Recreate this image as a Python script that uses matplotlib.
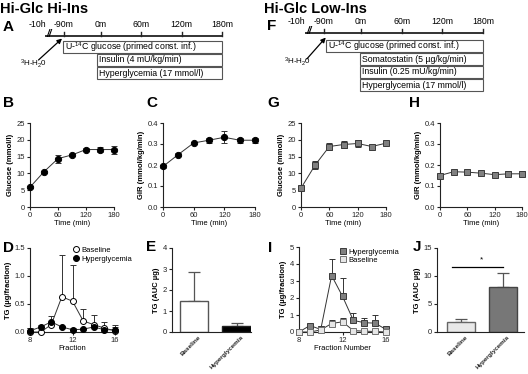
import matplotlib
matplotlib.use("Agg")
import matplotlib.pyplot as plt
import matplotlib.transforms as mtransforms
from matplotlib.lines import Line2D
from matplotlib.patches import Rectangle
import numpy as np

plt.rcParams['font.family'] = ['Liberation Sans', 'DejaVu Sans']
plt.rcParams['mathtext.fontset'] = 'custom'
plt.rcParams['mathtext.rm'] = 'Liberation Sans'
plt.rcParams['mathtext.it'] = 'Liberation Sans:italic'
plt.rcParams['mathtext.bf'] = 'Liberation Sans:bold'

# ---- data ----
time = [0, 30, 60, 90, 120, 150, 180]
b_glc = [5.9, 10.5, 14.4, 15.5, 17.1, 17.1, 17.1]
b_glc_err = [0.3, 0.3, 1.2, 0.4, 0.4, 0.8, 1.2]
c_gir = [0.193, 0.250, 0.305, 0.318, 0.332, 0.318, 0.318]
c_gir_err = [0.006, 0.005, 0.005, 0.012, 0.028, 0.012, 0.012]
g_glc = [5.6, 12.5, 18.0, 18.6, 18.9, 18.0, 19.0]
g_glc_err = [0.3, 1.2, 1.0, 0.9, 0.9, 0.3, 0.3]
h_gir = [0.150, 0.168, 0.166, 0.161, 0.154, 0.158, 0.158]
h_gir_err = [0.008, 0.010, 0.005, 0.005, 0.006, 0.012, 0.012]

fractions = [8, 9, 10, 11, 12, 13, 14, 15, 16]
d_base = [0.0, 0.0, 0.13, 0.63, 0.55, 0.20, 0.13, 0.07, 0.02]
d_base_err = [0.07, 0.0, 0.05, 0.75, 0.65, 0.21, 0.17, 0.10, 0.11]
d_hyper = [0.02, 0.09, 0.18, 0.09, 0.04, 0.05, 0.09, 0.04, 0.04]
d_hyper_err = [0.05, 0.03, 0.10, 0.02, 0.03, 0.03, 0.04, 0.04, 0.05]
i_hyper = [0.0, 0.38, 0.15, 3.32, 2.1, 0.68, 0.55, 0.52, 0.15]
i_hyper_err = [0.05, 0.12, 0.10, 0.96, 1.05, 0.46, 0.27, 0.50, 0.10]
i_base = [0.0, 0.0, 0.12, 0.50, 0.60, 0.08, 0.05, 0.03, 0.0]
i_base_err = [0.0, 0.0, 0.05, 0.20, 0.25, 0.05, 0.05, 0.03, 0.10]

groups = ['Baseline', 'Hyperglycemia']
e_vals = [1.5, 0.28]
e_err = [1.38, 0.14]
j_vals = [1.7, 8.0]
j_err = [0.6, 2.5]

tl_labels = ['-10h', '-90m', '0m', '60m', '120m', '180m']
tl_pos = [-95, -55, 0, 60, 120, 180]   # schematic minutes (-90m compressed)
a_boxes = ['U-$^{14}$C glucose (primed const. inf.)', 'Insulin (4 mU/kg/min)',
           'Hyperglycemia (17 mmol/l)']
a_box_start = [-56, -6, -6]
f_boxes = ['U-$^{14}$C glucose (primed const. inf.)', 'Somatostatin (5 \u00b5g/kg/min)',
           'Insulin (0.25 mU/kg/min)', 'Hyperglycemia (17 mmol/l)']
f_box_start = [-51, -2, -2, -2]

W, H = 528, 374
fig = plt.figure(figsize=(W / 100, H / 100), dpi=100)

FS = 5.5
DARK = '#333333'


def px_axes(x0, y0, x1, y1):
    return fig.add_axes([x0 / W, 1 - y1 / H, (x1 - x0) / W, (y1 - y0) / H])


def prism(ax):
    for s in ['top', 'right']:
        ax.spines[s].set_visible(False)
    for s in ['left', 'bottom']:
        ax.spines[s].set_linewidth(0.8)
        ax.spines[s].set_color('#222222')
    ax.tick_params(direction='out', length=2.5, width=0.8, labelsize=FS, pad=1,
                   colors='#222222')


def letter(x, y, s):
    fig.text(x / W, 1 - y / H, s, fontsize=11, fontweight='bold', va='center', ha='left')


def timeline(rect, boxes, starts, line_row, lab_row, arrow, h2o):
    ax = px_axes(*rect[:4])
    ax.set_xlim(rect[4], rect[5])
    ax.set_ylim(rect[6], rect[7])
    ax.axis('off')
    ax.plot([-83, 180], [line_row, line_row], color='#222222', lw=1.3, solid_capstyle='butt')
    for lab, p in zip(tl_labels, tl_pos):
        if p > -90:
            ax.plot([p, p], [line_row, line_row - 0.32], color='#222222', lw=1.0)
        ax.text(p, lab_row, lab, fontsize=6.3, ha='center', va='center')
    ax.text(-77, line_row - 0.12, '//', fontsize=7, fontweight='bold', ha='center',
            va='center', style='italic')
    for k, (txt, st) in enumerate(zip(boxes, starts)):
        r = k + 1
        ax.add_patch(Rectangle((st, r - 0.45), 180 - st, 0.9, facecolor='white',
                               edgecolor='#555555', lw=0.8))
        ax.text(st + 3, r, txt, fontsize=6.3, ha='left', va='center')
    ax.annotate('', xy=arrow[2:], xytext=arrow[:2],
                arrowprops=dict(arrowstyle='-|>', color='black', lw=0.9,
                                mutation_scale=7, shrinkA=0, shrinkB=0))
    ax.text(h2o[0], h2o[1], '$^{3}$H-H$_{2}$0', fontsize=5.8, ha='center', va='center')


# ---- titles & letters ----
fig.text(0 / W, 1 - 9 / H, 'Hi-Glc Hi-Ins', fontsize=10.5, fontweight='bold', va='center')
fig.text(264 / W, 1 - 9 / H, 'Hi-Glc Low-Ins', fontsize=10.5, fontweight='bold', va='center')
for (x, y, s) in [(3, 27, 'A'), (3, 103, 'B'), (146, 103, 'C'), (3, 248, 'D'),
                  (146, 247, 'E'), (267, 26, 'F'), (267, 103, 'G'), (409, 103, 'H'),
                  (268, 248, 'I'), (413, 247, 'J')]:
    letter(x, y, s)

# ---- timelines A and F (y rows: 13 px each) ----
timeline((0, 20, 264, 96, -150.3, 242.6, (96 - 34) / 13, (20 - 34) / 13), a_boxes,
         a_box_start, 0.15, -0.7, (-93, 2.0, -58, 0.35), (-101, 2.25))
timeline((264, 18, 528, 96, -143.1, 246.3, (96 - 33) / 13, (18 - 33) / 13), f_boxes,
         f_box_start, 0.0, -0.85, (-80, 2.0, -52, 0.35), (-93, 2.2))


def time_panel(rect, y, yerr, ylim, yticks, ylabel, marker, fc, ec, fmt):
    ax = px_axes(*rect)
    prism(ax)
    ax.errorbar(time, y, yerr=yerr, color=DARK, lw=0.7, elinewidth=0.7, capsize=2,
                capthick=0.7, marker=marker, ms=4.5, mfc=fc, mec=ec, mew=0.7,
                clip_on=False, zorder=3)
    ax.set_xlim(0, 180)
    ax.set_ylim(*ylim)
    ax.set_xticks([0, 60, 120, 180])
    ax.set_yticks(yticks)
    ax.set_yticklabels([fmt % v for v in yticks])
    ax.set_xlabel('Time (min)', fontsize=FS, labelpad=1)
    ax.set_ylabel(ylabel, fontsize=FS, fontweight='bold', labelpad=2)
    return ax


time_panel((30, 123, 114, 207), b_glc, b_glc_err, (0, 25), [0, 5, 10, 15, 20, 25],
           'Glucose (mmol/l)', 'o', 'black', 'black', '%d')
time_panel((163, 123, 255, 207), c_gir, c_gir_err, (0, 0.4), [0, 0.1, 0.2, 0.3, 0.4],
           'GIR (mmol/kg/min)', 'o', 'black', 'black', '%.1f')
time_panel((301, 123, 386, 207), g_glc, g_glc_err, (0, 25), [0, 5, 10, 15, 20, 25],
           'Glucose (mmol/l)', 's', '#808080', '#3a3a3a', '%d')
time_panel((440, 123, 522, 207), h_gir, h_gir_err, (0, 0.4), [0, 0.1, 0.2, 0.3, 0.4],
           'GIR (mmol/kg/min)', 's', '#808080', '#3a3a3a', '%.1f')


def frac_panel(rect, series, ylim, yticks, fmt, xlabel, legend_at):
    ax = px_axes(*rect)
    prism(ax)
    handles = []
    for (y, err, marker, fc, ec, lab) in series:
        ax.errorbar(fractions, y, yerr=[np.zeros(len(err)), err], color=DARK, lw=0.7,
                    elinewidth=0.7, capsize=2, capthick=0.7, marker=marker, ms=4.3,
                    mfc=fc, mec=ec, mew=0.7, clip_on=False, zorder=3)
        handles.append(Line2D([], [], ls='none', marker=marker, ms=4.3, mfc=fc, mec=ec,
                              mew=0.7, label=lab))
    ax.set_xlim(8, 16)
    ax.set_ylim(*ylim)
    ax.set_xticks([8, 12, 16])
    ax.set_yticks(yticks)
    ax.set_yticklabels([fmt % v for v in yticks])
    ax.set_xlabel(xlabel, fontsize=FS, labelpad=1)
    ax.set_ylabel('TG (\u00b5g/fraction)', fontsize=FS, fontweight='bold', labelpad=2)
    ax.legend(handles=handles, loc='upper left', bbox_to_anchor=legend_at, frameon=False,
              fontsize=FS, handlelength=0.8, handletextpad=0.3, labelspacing=0.15,
              borderpad=0, borderaxespad=0)


frac_panel((30, 248, 115, 332),
           [(d_base, d_base_err, 'o', 'white', 'black', 'Baseline'),
            (d_hyper, d_hyper_err, 'o', 'black', 'black', 'Hyperglycemia')],
           (0, 1.5), [0, 0.5, 1.0, 1.5], '%.1f', 'Fraction', (0.5, 1.015))
frac_panel((299, 247, 386, 332),
           [(i_hyper, i_hyper_err, 's', '#808080', '#3a3a3a', 'Hyperglycemia'),
            (i_base, i_base_err, 's', '#e6e6e6', '#707070', 'Baseline')],
           (0, 5), [0, 1, 2, 3, 4, 5], '%d', 'Fraction Number', (0.47, 0.985))


def bar_panel(rect, vals, err, ylim, yticks, xlim, fcs, ecs):
    ax = px_axes(*rect)
    prism(ax)
    x = np.arange(len(vals))
    ax.bar(x, vals, width=0.67, color=fcs, edgecolor=ecs, lw=1.0, zorder=2)
    ax.errorbar(x, vals, yerr=[np.zeros(len(err)), err], fmt='none', ecolor='#555555',
                elinewidth=0.9, capsize=4, capthick=0.9, zorder=1)
    ax.set_xlim(*xlim)
    ax.set_ylim(*ylim)
    ax.set_yticks(yticks)
    ax.set_xticks(x)
    ax.set_xticklabels(groups, rotation=45, ha='right', rotation_mode='anchor',
                       fontsize=4.6, fontweight='bold')
    ax.tick_params(axis='x', length=0, pad=2)
    shift = mtransforms.ScaledTranslation(4 / 100, 0, fig.dpi_scale_trans)
    for t in ax.get_xticklabels():
        t.set_transform(t.get_transform() + shift)
    ax.set_ylabel('TG (AUC \u00b5g)', fontsize=FS, fontweight='bold', labelpad=2)
    return ax


bar_panel((172, 248, 251, 332), e_vals, e_err, (0, 4), [0, 1, 2, 3, 4], (-0.52, 1.34),
          ['white', 'black'], ['#555555', '#222222'])
axj = bar_panel((437, 248, 524, 332), j_vals, j_err, (0, 15), [0, 5, 10, 15],
                (-0.57, 1.5), ['#e8e8e8', '#777777'], ['#666666', '#444444'])
axj.plot([-0.21, 1.0], [11.6, 11.6], color='black', lw=0.9)
axj.text(0.5, 12.2, '*', fontsize=6, ha='center', va='bottom')

fig.savefig('out.png', dpi=100)
